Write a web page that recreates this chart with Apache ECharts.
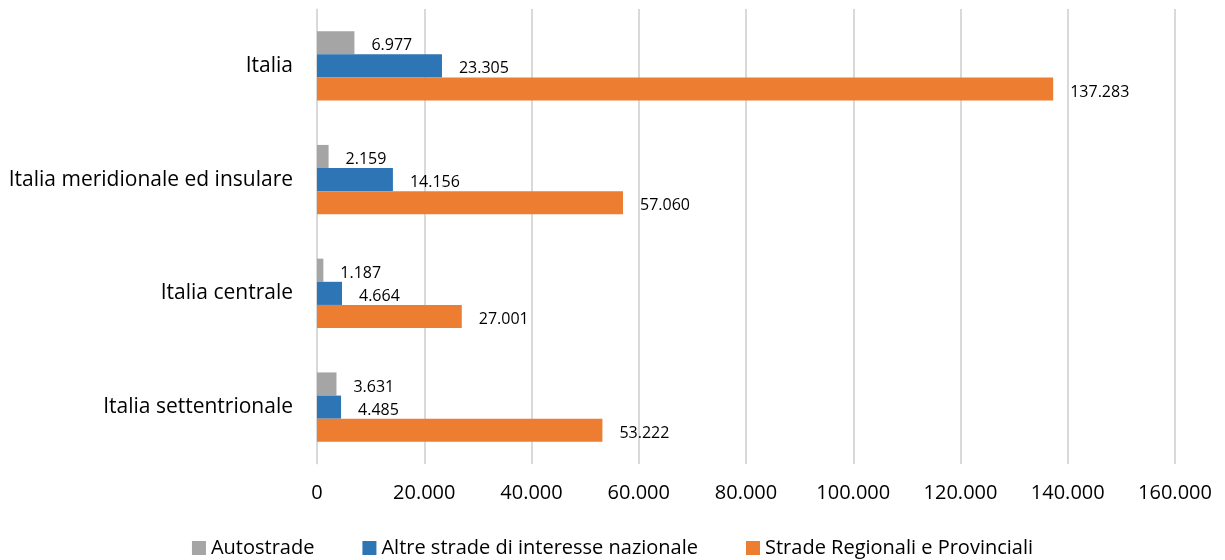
<!DOCTYPE html>
<html>
<head>
<meta charset="utf-8">
<script src="https://cdn.jsdelivr.net/npm/echarts@6/dist/echarts.min.js"></script>
<style>
  html, body { margin: 0; padding: 0; background: #fff; }
  #chart { width: 1225px; height: 560px; }
</style>
</head>
<body>
<div id="chart"></div>
<script>
// dati (dal basso verso l'alto, come nell'asse categorie)
const categories = ['Italia settentrionale', 'Italia centrale', 'Italia meridionale ed insulare', 'Italia'];
const autostrade = [3631, 1187, 2159, 6977];
const altreStrade = [4485, 4664, 14156, 23305];
const stradeRegionali = [53222, 27001, 57060, 137283];
const seriesNames = ['Autostrade', 'Altre strade di interesse nazionale', 'Strade Regionali e Provinciali'];
const colors = ['#A5A5A5', '#2E75B6', '#ED7D31'];

const font = '"Open Sans", "Noto Sans", sans-serif';

// formato italiano: punto come separatore delle migliaia
function fmt(v) {
  return String(v).replace(/\B(?=(\d{3})+(?!\d))/g, '.');
}

const chart = echarts.init(document.getElementById('chart'));

function barSeries(name, data, color) {
  return {
    name: name,
    type: 'bar',
    data: data,
    barGap: '0%',
    barCategoryGap: '39%',
    itemStyle: { color: color },
    label: {
      show: true,
      position: 'right',
      distance: 17,
      offset: [0, 3],
      color: '#000',
      fontFamily: font,
      fontSize: 16,
      formatter: p => fmt(p.value)
    }
  };
}

const option = {
  animation: false,
  textStyle: { fontFamily: font },
  grid: { left: 317, right: 50, top: 9, bottom: 96, containLabel: false },
  legend: {
    top: 533,
    left: 'center',
    itemWidth: 14,
    itemHeight: 14,
    itemGap: 48,
    icon: 'rect',
    textStyle: { fontFamily: font, fontSize: 20, color: '#000' },
    data: seriesNames
  },
  xAxis: {
    type: 'value',
    min: 0,
    max: 160000,
    interval: 20000,
    axisLine: { show: false },
    axisTick: { show: false },
    splitLine: { lineStyle: { color: '#D9D9D9', width: 2 } },
    axisLabel: {
      color: '#000',
      fontFamily: font,
      fontSize: 20,
      margin: 19,
      formatter: v => fmt(v)
    }
  },
  yAxis: {
    type: 'category',
    data: categories,
    axisLine: { show: true, lineStyle: { color: '#D9D9D9', width: 1 } },
    axisTick: { show: false },
    axisLabel: {
      color: '#000',
      fontFamily: font,
      fontSize: 21,
      margin: 24
    }
  },
  series: [
    barSeries(seriesNames[0], autostrade, colors[0]),
    barSeries(seriesNames[1], altreStrade, colors[1]),
    barSeries(seriesNames[2], stradeRegionali, colors[2])
  ]
};

chart.setOption(option);
</script>
</body>
</html>
